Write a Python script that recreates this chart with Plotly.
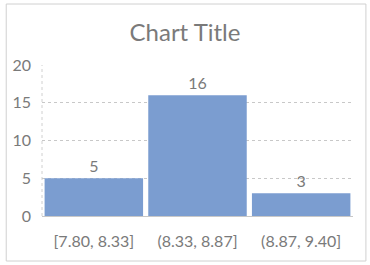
import plotly.graph_objects as go

categories = ["[7.80, 8.33]", "(8.33, 8.87]", "(8.87, 9.40]"]
counts = [5, 16, 3]
y_ticks = [0, 5, 10, 15, 20]

TXT = "#7A7A7A"
fig = go.Figure()
fig.add_trace(go.Bar(
    x=categories, y=counts,
    text=[str(v) for v in counts], textposition="outside",
    textfont=dict(color=TXT, size=16),
    marker=dict(color="#7B9DD0", line=dict(width=0)),
    cliponaxis=False,
))

L, R, T, B = 40, 17, 65, 49
pw, ph = 370 - L - R, 265 - T - B
def px(x): return (x - L) / pw
def py(y): return (265 - B - y) / ph

fig.update_layout(
    width=370, height=265,
    margin=dict(l=L, r=R, t=T, b=B),
    paper_bgcolor="white", plot_bgcolor="white",
    font=dict(family="Lato, Open Sans, sans-serif", color=TXT, size=16),
    title=dict(text="Chart Title", x=0.5, xanchor="center", y=1 - 33 / 265, yanchor="middle",
               font=dict(size=24, color=TXT)),
    bargap=0.05,
    showlegend=False,
    xaxis=dict(showgrid=False, showline=False, ticks="", tickfont=dict(size=16, color=TXT),
               ticklabelstandoff=14),
    yaxis=dict(range=[0, 20], tickvals=y_ticks, showgrid=True, gridcolor="#C8C8C8", griddash="dot",
               gridwidth=1, zeroline=True, zerolinecolor="#C8C8C8", zerolinewidth=1,
               ticks="", tickfont=dict(size=16, color=TXT), ticklabelstandoff=10),
    shapes=[
        dict(type="line", xref="paper", yref="paper", x0=0, x1=0, y0=0, y1=1,
             line=dict(color="#D0D0D0", width=1, dash="dot"), layer="below"),
        dict(type="rect", xref="paper", yref="paper", x0=px(4), x1=px(366), y0=py(4), y1=py(261),
             line=dict(color="#D0D0D0", width=1)),
    ],
)

fig.write_html("out.html")
